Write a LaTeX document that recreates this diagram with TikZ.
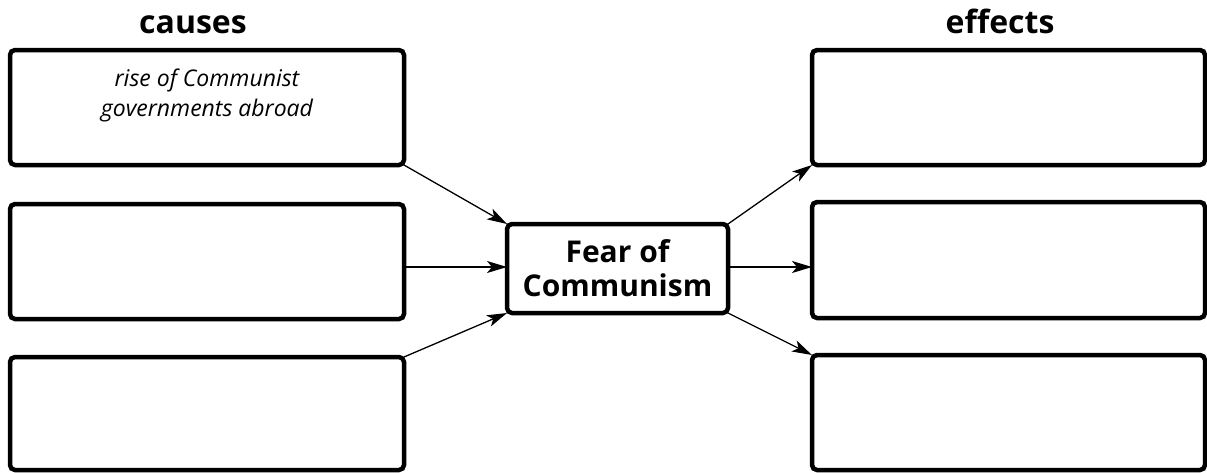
\documentclass[tikz,border=0pt]{standalone}
\usepackage{fontspec}
\setmainfont{Open Sans}
\usetikzlibrary{arrows.meta}
\begin{document}
\begin{tikzpicture}[x=1pt,y=-1pt,
  box/.style={draw=black,line width=4.5pt,rounded corners=5pt,fill=white},
  conn/.style={line width=1.3pt,-{Stealth[length=20pt,width=12pt,inset=5pt]}},
  title/.style={font=\fontsize{32}{36}\selectfont\bfseries},
  ctitle/.style={font=\fontsize{30}{34}\selectfont\bfseries},
  hand/.style={font=\fontsize{23}{30}\selectfont\itshape}]
\useasboundingbox (0,0) rectangle (1207,472);
% left boxes
\draw[box] (10,50) rectangle (404,165);
\draw[box] (10,204) rectangle (404,319);
\draw[box] (10,357) rectangle (404,470);
% right boxes
\draw[box] (812,50) rectangle (1205,165);
\draw[box] (812,202) rectangle (1205,318);
\draw[box] (812,355) rectangle (1205,470);
% named anchors
\coordinate (L1) at (404,165);
\coordinate (L2) at (404,267);
\coordinate (L3) at (404,357);
\coordinate (R1) at (812,165);
\coordinate (R2) at (812,267);
\coordinate (R3) at (812,355);
% center box
\draw[box] (507,224) rectangle (728,313);
\coordinate (C1) at (507,224);
\coordinate (C2) at (507,267);
\coordinate (C3) at (507,313);
\coordinate (D1) at (728,224);
\coordinate (D2) at (728,267);
\coordinate (D3) at (728,313);
\node[ctitle,align=center] (center) at (617.5,268) {Fear of\\Communism};
% titles
\node[title,anchor=base] (causes) at (193,33) {causes};
\node[title,anchor=base] (effects) at (1000,33) {effects};
% handwritten text
\node[hand,align=center] (rise) at (207,95) {rise of Communist\\governments abroad};
% connectors
\draw[conn] (L1) -- (C1);
\draw[conn] (L2) -- (C2);
\draw[conn] (L3) -- (C3);
\draw[conn] (D1) -- (R1);
\draw[conn] (D2) -- (R2);
\draw[conn] (D3) -- (R3);
\end{tikzpicture}
\end{document}
